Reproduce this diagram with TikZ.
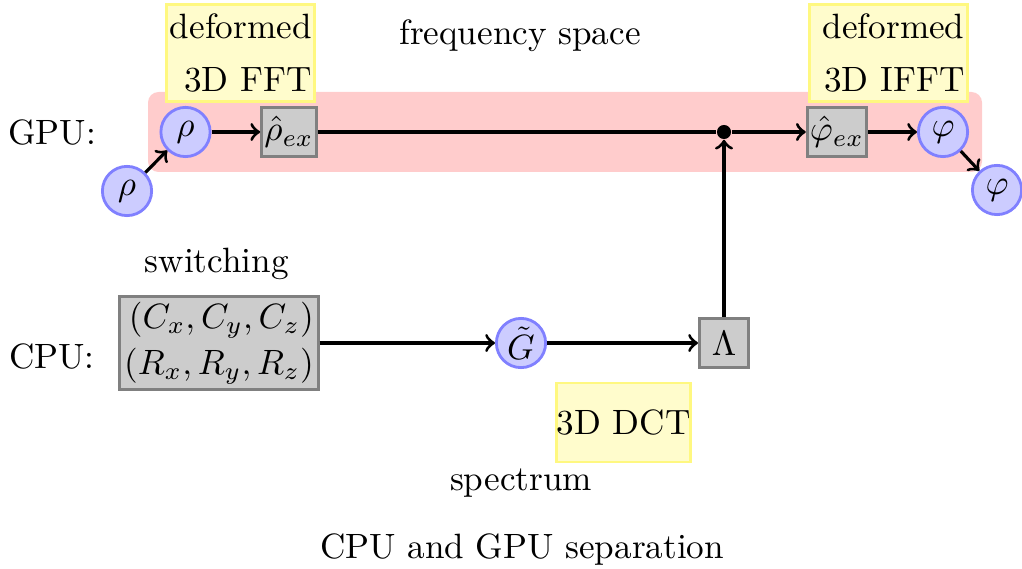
\documentclass[tikz,border=0pt]{standalone}
\usetikzlibrary{backgrounds}
\begin{document}
\begin{tikzpicture}[x=0.2844pt,y=-0.2844pt,
  vert/.style={circle, draw=blue!50, fill=blue!20, thick, minimum size=14pt, inner sep=0pt},
  gbox/.style={rectangle, draw=gray, fill=gray!40, thick, minimum size=14pt, inner sep=0.8pt},
  note/.style={rectangle, draw=yellow!50, fill=yellow!20, thick, align=right, inner xsep=0.8pt, inner ysep=2.6pt},
  lbl/.style={anchor=base, inner sep=0pt},
  flow/.style={->, line width=0.9pt}]
\useasboundingbox (0,0) rectangle (1022,568);

% GPU lane
\fill[red!20, rounded corners=3pt] (148,92) rectangle (982,172);

% nodes on the GPU lane
\node[vert] (r0) at (127,191) {$\rho$};
\node[vert] (r1) at (185.5,132) {$\rho$};
\node[gbox] (rh) at (289,132) {$\hat\rho_{ex}$};
\node[circle, fill=black, inner sep=0pt, minimum size=4pt] (dot) at (724,132) {};
\node[gbox] (ph) at (837,132) {$\hat\varphi_{ex}$};
\node[vert] (p1) at (943,132) {$\varphi$};
\node[vert] (p2) at (997,190) {$\varphi$};

% nodes on the CPU lane
\node[gbox, minimum width=55.5pt, minimum height=26.5pt, align=right, inner xsep=1.3pt] (sw) at (219,343)
  {$(C_x,C_y,C_z)$\\[1pt]$(R_x,R_y,R_z)$};
\node[vert] (g) at (521,343) {$\tilde G$};
\node[gbox] (lam) at (724,343) {$\Lambda$};

% transform notes
\node[note, text width=40.5pt, minimum height=26.5pt] (fft) at (240.5,53) {deformed\\[3pt]3D FFT};
\node[note, text width=43.2pt, minimum height=26.5pt] (ifft) at (888.5,53) {deformed\\[3pt]3D IFFT};
\node[note, inner xsep=0pt, minimum width=37.6pt, minimum height=22.5pt] (dct) at (623.5,422.5) {3D DCT};

% labels
\node[lbl] (gpu) at (52,145) {GPU:};
\node[lbl] (cpu) at (52,368) {CPU:};
\node[lbl] (swl) at (216.7,273) {switching};
\node[lbl] (fsp) at (520,45) {frequency space};
\node[lbl] (spc) at (521,490) {spectrum};
\node[lbl] (cap) at (522,558) {CPU and GPU separation};

% connectors
\draw[flow] (r0) -- (r1);
\draw[flow] (r1) -- (rh);
\draw[line width=0.9pt] (rh) -- (dot);
\draw[flow] (dot) -- (ph);
\draw[flow] (ph) -- (p1);
\draw[flow] (p1) -- (p2);
\draw[flow] (sw) -- (g);
\draw[flow] (g) -- (lam);
\draw[flow] (lam) -- (dot);
\end{tikzpicture}
\end{document}
